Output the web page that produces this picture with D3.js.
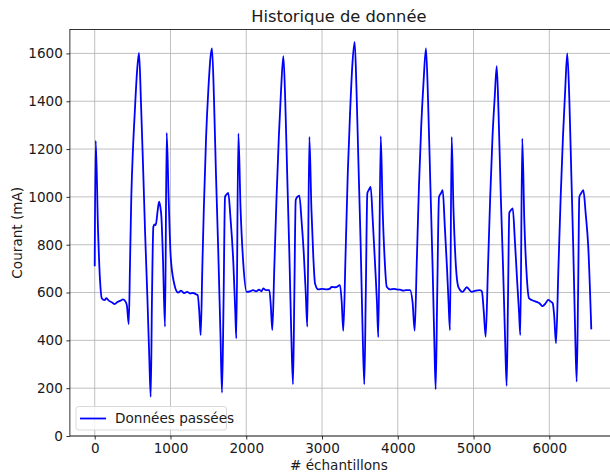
<!DOCTYPE html>
<html>
<head>
<meta charset="utf-8">
<script src="https://cdn.jsdelivr.net/npm/d3@7"></script>
<style>
  body { margin: 0; background: #fff; }
  text { font-family: "DejaVu Sans", sans-serif; fill: #1a1a1a; }
</style>
</head>
<body>
<div class="container"></div>
<script>
const W = 610, H = 473;
const LEFT = 69.9, RIGHT = 615.8, TOP = 29.5, BOTTOM = 436;

// data
const samples = [
  0, 13, 44, 70, 95, 130, 153, 190, 230, 264, 300, 340, 373, 409, 425, 449,
  466, 483, 505, 528, 560, 585, 610, 637, 665, 695, 720, 739, 756, 774, 790, 805,
  830, 849, 865, 880, 900, 928, 950, 975, 1003, 1047, 1100,
  1140, 1180, 1220, 1260, 1300, 1340, 1359, 1380, 1399, 1420, 1440, 1470, 1500, 1530, 1548,
  1575, 1600, 1630, 1660, 1680, 1700, 1720, 1740, 1763, 1790, 1830, 1855, 1869, 1896, 1925, 1961, 2005,
  2050, 2090, 2130, 2170, 2200, 2225, 2260, 2305, 2325, 2344, 2370, 2400, 2430, 2460, 2490,
  2515, 2540, 2570, 2595, 2617, 2635, 2653, 2675, 2701, 2730, 2760, 2785, 2806, 2833, 2860, 2885, 2908, 2951,
  3000, 3062, 3100, 3128, 3180, 3237, 3260, 3281, 3310, 3340, 3370, 3400, 3431,
  3455, 3480, 3510, 3535, 3558, 3578, 3598, 3620, 3642, 3670, 3700, 3725, 3743, 3775, 3800, 3825, 3854,
  3900, 3950, 3986, 4030, 4070, 4110, 4161, 4195, 4223, 4250, 4280, 4310, 4340, 4372,
  4400, 4430, 4460, 4482, 4500, 4520, 4544, 4570, 4593, 4620, 4650, 4670, 4689, 4711, 4735, 4760, 4799,
  4857, 4910, 4975, 5030, 5085, 5110, 5135, 5160, 5190, 5220, 5250, 5280, 5306,
  5330, 5360, 5390, 5415, 5437, 5455, 5472, 5495, 5517, 5545, 5575, 5600, 5617, 5643, 5670, 5700, 5732,
  5767, 5833, 5870, 5912, 5950, 5987, 6020, 6045, 6065, 6088, 6120, 6150, 6180, 6210, 6237,
  6265, 6290, 6315, 6340, 6361, 6380, 6396, 6420, 6449, 6480, 6514, 6554
];
const courant = [
  710, 1235, 860, 652, 575, 568, 576, 565, 558, 552, 560, 566, 571, 561, 545, 468,
  722, 1000, 1200, 1349, 1530, 1602, 1400, 1140, 850, 582, 330, 164, 582, 875, 885, 882,
  940, 980, 960, 917, 750, 457, 1268, 1000, 750, 640, 600,
  608, 598, 603, 596, 598, 592, 589, 520, 422, 700, 950, 1250, 1450, 1590, 1621,
  1400, 1100, 780, 420, 181, 550, 1000, 1010, 1017, 920, 722, 520, 408, 1265, 950, 722, 603,
  605, 610, 605, 612, 605, 617, 610, 610, 540, 443, 700, 1000, 1250, 1450, 1589,
  1400, 1100, 750, 420, 216, 600, 987, 1000, 1005, 900, 760, 600, 457, 1251, 950, 750, 638, 613,
  615, 613, 615, 624, 622, 631, 560, 440, 750, 1100, 1350, 1550, 1648,
  1450, 1150, 800, 450, 216, 600, 1015, 1030, 1042, 900, 720, 560, 413, 1254, 950, 750, 624,
  613, 615, 613, 612, 608, 610, 610, 560, 440, 720, 1050, 1300, 1480, 1621,
  1400, 1050, 700, 400, 195, 580, 1000, 1015, 1028, 880, 700, 560, 443, 1251, 950, 750, 624,
  603, 622, 603, 608, 610, 605, 520, 415, 700, 1000, 1250, 1420, 1547,
  1350, 1000, 700, 420, 210, 580, 934, 945, 952, 820, 650, 520, 422, 1244, 900, 680, 576,
  569, 561, 555, 543, 555, 569, 562, 555, 500, 387, 700, 1000, 1250, 1450, 1600,
  1400, 1100, 800, 450, 227, 600, 1000, 1015, 1028, 930, 791, 446
];
const xTicks = [0, 1000, 2000, 3000, 4000, 5000, 6000];
const yTicks = [0, 200, 400, 600, 800, 1000, 1200, 1400, 1600];

const drawChart = function () {
  var svg = d3.select(".container").append("svg")
    .attr("width", W)
    .attr("height", H);

  var x = d3.scaleLinear().domain([-327.5, 6877.5]).range([LEFT, RIGHT]);
  var y = d3.scaleLinear().domain([0, 1700]).range([BOTTOM, TOP]);

  // grid
  var grid = svg.append("g");
  xTicks.forEach(function (t) {
    grid.append("line")
      .attr("x1", x(t)).attr("x2", x(t))
      .attr("y1", TOP).attr("y2", BOTTOM)
      .attr("stroke", "#b0b0b0").attr("stroke-width", 0.8);
  });
  yTicks.forEach(function (t) {
    grid.append("line")
      .attr("x1", LEFT).attr("x2", RIGHT)
      .attr("y1", y(t)).attr("y2", y(t))
      .attr("stroke", "#b0b0b0").attr("stroke-width", 0.8);
  });

  // series
  var pts = samples.map(function (s, i) { return [s, courant[i]]; });
  var line = d3.line()
    .x(function (d) { return x(d[0]); })
    .y(function (d) { return y(d[1]); })
    .curve(d3.curveMonotoneX);
  svg.append("path")
    .datum(pts)
    .attr("d", line)
    .attr("fill", "none")
    .attr("stroke", "#0000ff")
    .attr("stroke-width", 1.8)
    .attr("stroke-linejoin", "round");

  // axes
  var xAxis = d3.axisBottom(x).tickValues(xTicks).tickFormat(d3.format("d"))
    .tickSize(3.5).tickPadding(3.5);
  var yAxis = d3.axisLeft(y).tickValues(yTicks).tickFormat(d3.format("d"))
    .tickSize(3.5).tickPadding(3.5);
  var gx = svg.append("g").attr("transform", "translate(0," + BOTTOM + ")").call(xAxis);
  var gy = svg.append("g").attr("transform", "translate(" + LEFT + ",0)").call(yAxis);
  [gx, gy].forEach(function (g) {
    g.select(".domain").remove();
    g.selectAll(".tick line").attr("stroke", "#000").attr("stroke-width", 0.8);
    g.selectAll(".tick text")
      .attr("font-family", "DejaVu Sans")
      .attr("font-size", "13.6px")
      .attr("fill", "#1a1a1a");
  });

  // spines
  svg.append("rect")
    .attr("x", LEFT).attr("y", TOP)
    .attr("width", RIGHT - LEFT).attr("height", BOTTOM - TOP)
    .attr("fill", "none").attr("stroke", "#000").attr("stroke-width", 0.8);

  // labels
  svg.append("text")
    .attr("x", (LEFT + RIGHT) / 2 - 4).attr("y", 22)
    .attr("text-anchor", "middle")
    .attr("font-size", "16.3px")
    .text("Historique de donnée");
  svg.append("text")
    .attr("x", (LEFT + RIGHT) / 2 - 4).attr("y", 470)
    .attr("text-anchor", "middle")
    .attr("font-size", "13.6px")
    .text("# échantillons");
  svg.append("text")
    .attr("transform", "translate(22," + (TOP + BOTTOM) / 2 + ") rotate(-90)")
    .attr("text-anchor", "middle")
    .attr("font-size", "13.6px")
    .text("Courant (mA)");

  // legend
  var lg = svg.append("g");
  lg.append("rect")
    .attr("x", 76).attr("y", 406.5)
    .attr("width", 150.5).attr("height", 23.5)
    .attr("rx", 2.5)
    .attr("fill", "#fff").attr("fill-opacity", 0.8)
    .attr("stroke", "#d0d0d0").attr("stroke-width", 0.8);
  lg.append("line")
    .attr("x1", 80).attr("x2", 106)
    .attr("y1", 418.5).attr("y2", 418.5)
    .attr("stroke", "#0000ff").attr("stroke-width", 1.8);
  lg.append("text")
    .attr("x", 115).attr("y", 423.3)
    .attr("font-size", "13.6px")
    .text("Données passées");
};

window.onload = drawChart;
</script>
</body>
</html>
